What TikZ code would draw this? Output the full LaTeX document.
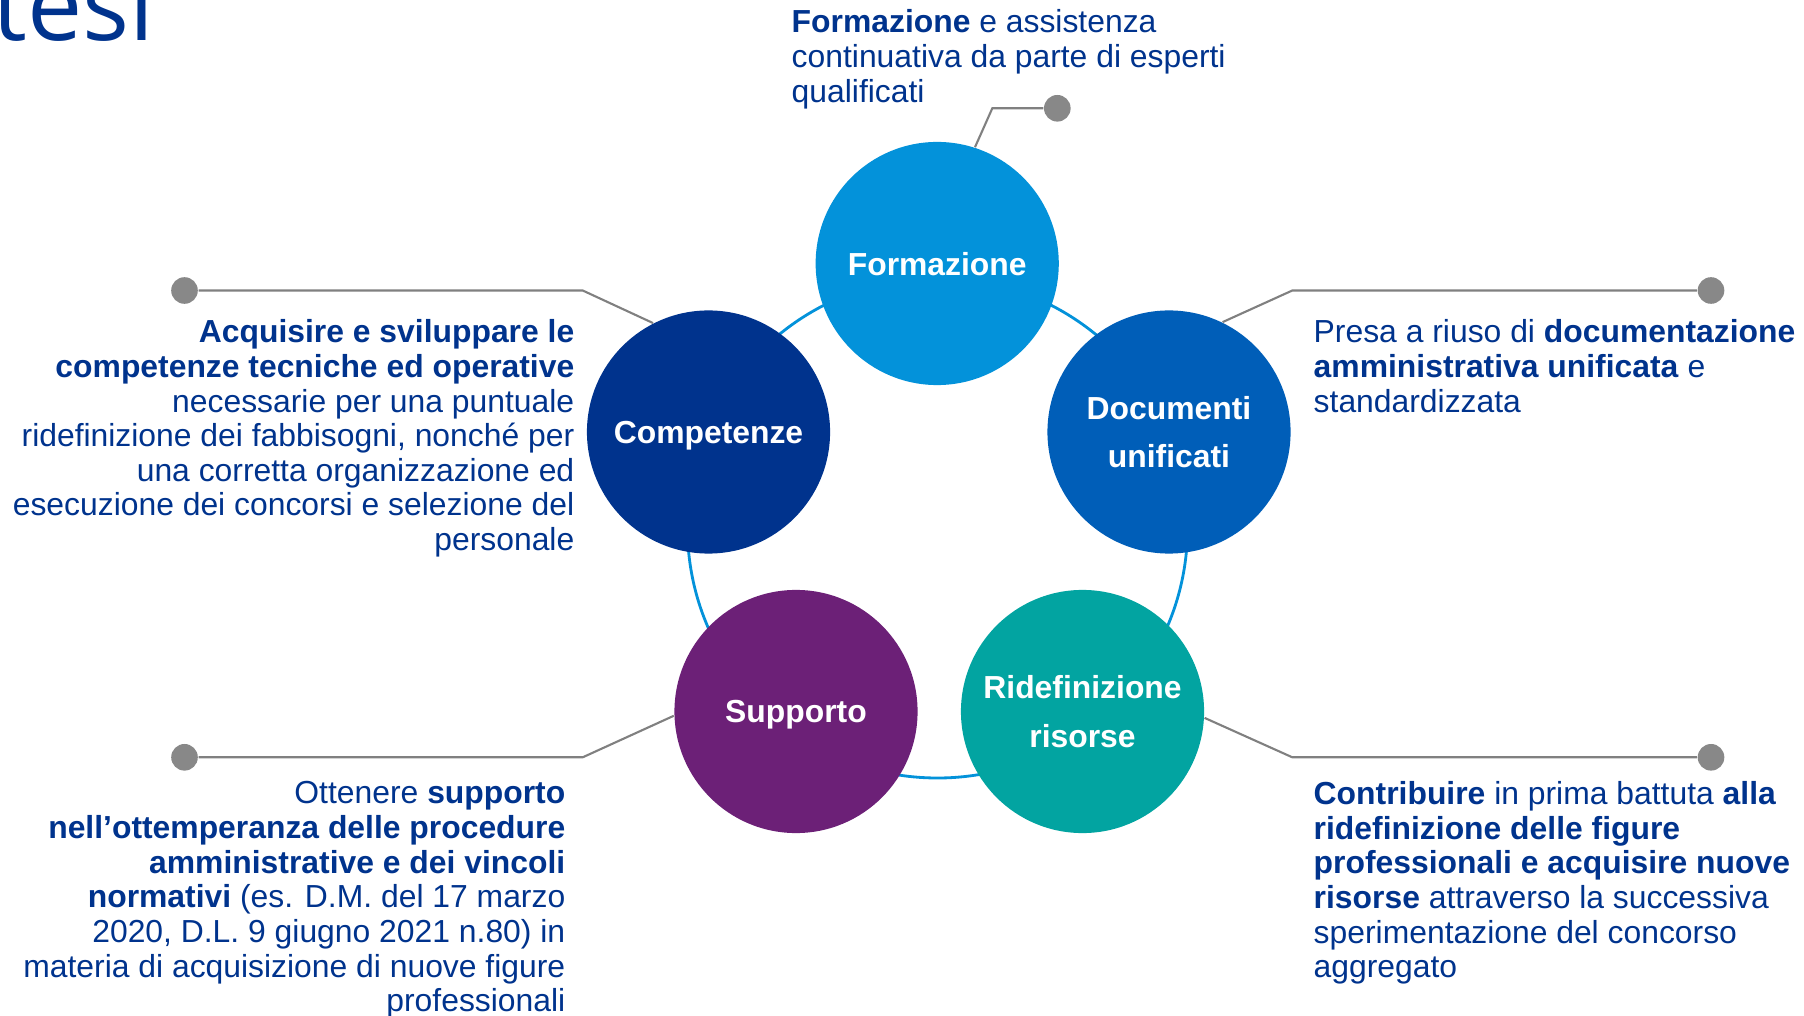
\documentclass[tikz,border=0pt]{standalone}
\usepackage{fontspec}
\setmainfont{Liberation Sans}
\newfontfamily\titlefont{Open Sans}
\usepackage{xcolor}
\usetikzlibrary{calc, positioning}

\definecolor{ctext}{HTML}{00338D}
\definecolor{cform}{HTML}{0392DA}
\definecolor{ccomp}{HTML}{00338D}
\definecolor{cdoc}{HTML}{005EB8}
\definecolor{csupp}{HTML}{6C2077}
\definecolor{crid}{HTML}{02A4A1}
\definecolor{cline}{HTML}{808080}
\definecolor{cdot}{HTML}{888888}

\tikzset{
	circ/.style={circle, minimum size=2.43cm, inner sep=0pt, text=white, align=center,
		text depth=0pt, font=\bfseries\fontsize{9.06}{13.7}\selectfont},
	info/.style={inner sep=0pt, text=ctext, font=\fontsize{9.06}{9.85}\selectfont},
	ring/.style={draw=cform, line width=0.8pt},
	leader/.style={draw=cline, line width=0.6pt},
	enddot/.style={circle, fill=cdot, minimum size=0.266cm, inner sep=0pt}
}

\begin{document}
\begin{tikzpicture}[x=0.01cm, y=-0.01cm]
		\useasboundingbox (0,0) rectangle (1804,1016);
		% title %
		\node[anchor=base east, inner sep=0pt, text=ctext, font=\titlefont\fontsize{28}{30}\selectfont] (title) at (155,40.7) {tesi};

		% ring %
		\draw[ring] (937.5,528) circle (250);

		% nodes %
		\node[circ, fill=cform] (form) at (937.2,263.5) {Formazione};
		\node[circ, fill=ccomp] (comp) at (708.5,432) {Competenze};
		\node[circ, fill=cdoc] (doc) at (1169,432) {Documenti\\unificati};
		\node[circ, fill=csupp] (supp) at (796,711.5) {Supporto};
		\node[circ, fill=crid] (rid) at (1082.5,711.5) {Ridefinizione\\risorse};

		% leaders %
		\coordinate (kform) at (992.3,108.3);
		\coordinate (kcomp) at (582.7,290.5);
		\coordinate (kdoc) at (1292.3,290.5);
		\coordinate (ksupp) at (582.7,757.3);
		\coordinate (krid) at (1292.3,757.3);
		\node[enddot] (pform) at (1057.3,108.3) {};
		\node[enddot] (pcomp) at (184.5,290.5) {};
		\node[enddot] (pdoc) at (1711,290.5) {};
		\node[enddot] (psupp) at (184.5,757.3) {};
		\node[enddot] (prid) at (1711,757.3) {};
		\draw[leader] (form.72) -- (kform) -- (pform);
		\draw[leader] (comp.117) -- (kcomp) -- (pcomp);
		\draw[leader] (doc.64) -- (kdoc) -- (pdoc);
		\draw[leader] (supp.182) -- (ksupp) -- (psupp);
		\draw[leader] (rid.357.5) -- (krid) -- (prid);

		% texts %
		\node[info, anchor=north west, align=left] (tform) at (791,7.8)
			{\strut\textbf{Formazione} e assistenza\\continuativa da parte di esperti\\qualificati};
		\node[info, align=right, below left=0.273cm and 0.077cm of kcomp] (tcomp)
			{\strut\textbf{Acquisire e sviluppare le}\\\textbf{competenze tecniche ed operative}\\necessarie per una puntuale\\ridefinizione dei fabbisogni, nonché per\\una corretta organizzazione ed\\esecuzione dei concorsi e selezione del\\personale};
		\node[info, align=left, below right=0.273cm and 0.207cm of kdoc] (tdoc)
			{\strut Presa a riuso di \textbf{documentazione}\\\textbf{amministrativa unificata} e\\standardizzata};
		\node[info, align=right, below left=0.217cm and 0.167cm of ksupp] (tsupp)
			{\strut Ottenere \textbf{supporto}\\\textbf{nell’ottemperanza delle procedure}\\\textbf{amministrative e dei vincoli}\\\textbf{normativi} (es. D.M. del 17 marzo\\2020, D.L. 9 giugno 2021 n.80) in\\materia di acquisizione di nuove figure\\professionali};
		\node[info, align=left, below right=0.222cm and 0.207cm of krid] (trid)
			{\strut\textbf{Contribuire} in prima battuta \textbf{alla}\\\textbf{ridefinizione delle figure}\\\textbf{professionali e acquisire nuove}\\\textbf{risorse} attraverso la successiva\\sperimentazione del concorso\\aggregato};
\end{tikzpicture}
\end{document}
